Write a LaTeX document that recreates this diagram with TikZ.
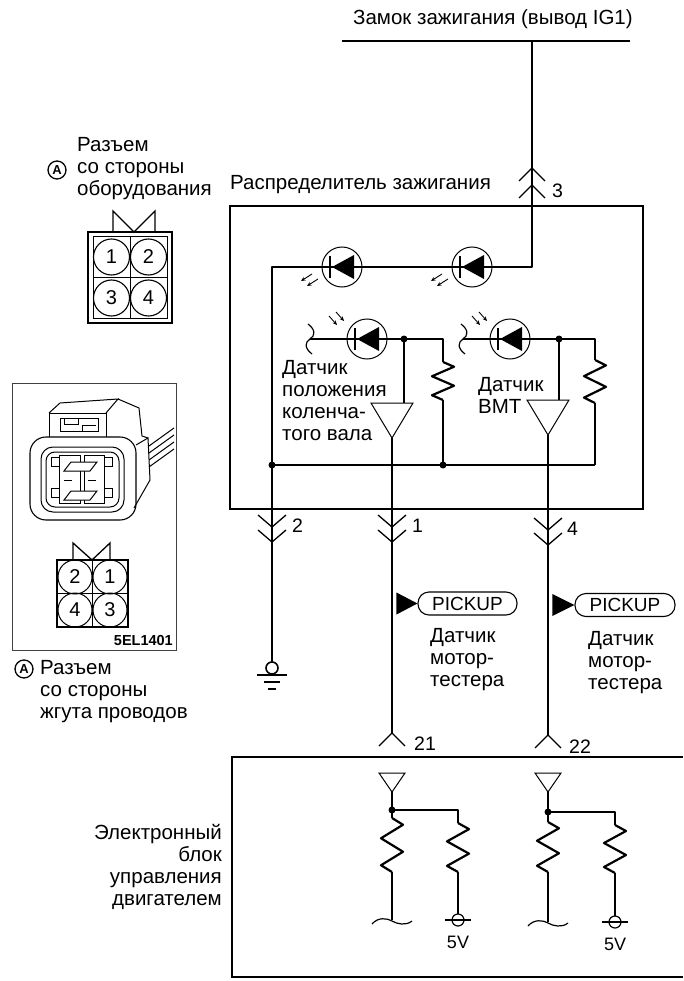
\documentclass[tikz,border=0pt]{standalone}
\usepackage{fontspec}
\setmainfont{Liberation Sans}
\usetikzlibrary{arrows.meta}
\tikzset{
  wire/.style={line width=2.2pt, line join=round},
  thinln/.style={line width=1pt},
  boxln/.style={line width=1.2pt},
  chev/.style={line width=1.3pt, line join=miter},
  txt/.style={font=\fontsize{20.5}{21.8}\selectfont, inner sep=0pt, align=left},
  volt/.style={font=\fontsize{18}{20}\selectfont, inner sep=0pt},
  jdot/.style={circle, fill=black, inner sep=0pt, minimum size=7pt},
  ray/.style={line width=0.9pt, -{Stealth[length=4.5pt,width=4pt]}},
  pickbox/.style={draw, line width=1.1pt, rounded corners=11pt, minimum width=99pt,
    minimum height=23pt, inner sep=0pt, font=\fontsize{19}{20}\selectfont},
  circA/.style={circle, draw, line width=1.3pt, inner sep=0pt, minimum size=18pt,
    font=\fontsize{13}{13}\selectfont\bfseries},
  pinnum/.style={font=\fontsize{19.5}{20}\selectfont, inner sep=0pt},
  % diode symbol in a circle, cathode bar on the left
  pics/diodeL/.style={code={
    \draw[thinln] (0,0) circle (20);
    \fill (-10,0) -- (12,-12) -- (12,12) -- cycle;
    \draw[line width=1.2pt] (-12,-11) -- (-12,11);
  }},
  % light leaving an LED
  pics/emit/.style={code={
    \draw[ray] (-30,7) -- (-41,14);
    \draw[ray] (-24,12) -- (-35,19);
  }},
  % light falling on a photodiode
  pics/absorb/.style={code={
    \draw[ray] (-38,-23) -- (-30,-14);
    \draw[ray] (-31,-27) -- (-23,-18);
  }},
  pics/ampbig/.style={code={
    \draw[thinln, fill=white] (-21,0) -- (21,0) -- (0,35) -- cycle;
  }},
  pics/ampsmall/.style={code={
    \draw[thinln, fill=white] (-13,0) -- (13,0) -- (0,19) -- cycle;
  }},
  pics/res/.style={code={
    \draw[wire] (0,0) -- (11,{#1/8}) -- (-11,{3*#1/8}) -- (11,{5*#1/8})
      -- (-11,{7*#1/8}) -- (0,#1);
  }},
  pics/tildeH/.style={code={
    \draw[line width=1.2pt] (-20,4) .. controls (-14,-3) and (-5,-2) .. (0,1)
      .. controls (5,4) and (14,6) .. (20,1);
  }},
  pics/tildeV/.style={code={
    \draw[line width=1.2pt] (-2,-15) .. controls (6,-9) and (5,-3) .. (0,0)
      .. controls (-5,3) and (-6,9) .. (2,15);
  }},
  pics/upchev/.style={code={
    \draw[chev] (-13,13) -- (0,0) -- (13,13);
  }},
  pics/downchev/.style={code={
    \draw[chev] (-14,-12) -- (0,0) -- (14,-12);
  }},
  pics/gnd/.style={code={
    \draw[line width=1.6pt] (0,0) circle (6);
    \draw[line width=1.2pt] (-15,7) -- (15,7);
    \draw[line width=1.2pt] (-8,14) -- (8,14);
    \draw[line width=1.2pt] (-4,21) -- (4,21);
  }},
  pics/terminal/.style={code={
    \draw[line width=1.2pt] (0,0) circle (6);
    \draw[line width=1.2pt] (-13,0) -- (13,0);
  }},
}
\begin{document}
\begin{tikzpicture}[x=1pt,y=-1pt]
\useasboundingbox (0,0) rectangle (683,981);

% ---------- ignition switch feed ----------
\coordinate (busL) at (342,41);
\coordinate (busR) at (630,41);
\coordinate (feed) at (532,41);
\coordinate (ledR) at (532,267);
\coordinate (ledL) at (272,267);
\coordinate (gTop) at (272,662);
\node[txt, anchor=base west] (tIG) at (353,25) {Замок зажигания (вывод IG1)};
\draw[wire] (busL) -- (busR);
\draw[wire] (feed) -- (ledR) -- (ledL) -- (gTop);

% ---------- distributor ----------
\node[txt, anchor=base west] (tDist) at (230,190) {Распределитель зажигания};
\draw[boxln] (230,206) rectangle (643,509);
\pic at (532,168) {upchev};
\pic at (532,185) {upchev};
\node[pinnum, anchor=base west] (n3) at (552,198) {3};

\pic at (342,267) {diodeL};
\pic at (342,267) {emit};
\pic at (472,267) {diodeL};
\pic at (472,267) {emit};

% crank angle sensor
\coordinate (p1a) at (310,339);
\coordinate (p1b) at (443,339);
\coordinate (p1j) at (404,339);
\coordinate (r1t) at (443,362);
\coordinate (r1b) at (443,400);
\coordinate (b1) at (443,465);
\coordinate (a1in) at (404,403);
\coordinate (a1out) at (392,438);
\coordinate (c21) at (392,733);
\draw[wire] (p1a) -- (p1b) -- (r1t);
\pic at (r1t) {res=38};
\draw[wire] (r1b) -- (b1);
\draw[wire] (p1j) -- (a1in);
\pic at (392,403) {ampbig};
\draw[wire] (a1out) -- (c21);
\pic at (367,339) {diodeL};
\pic at (367,339) {absorb};
\pic at (p1a) {tildeV};

% TDC sensor
\coordinate (p2a) at (463,339);
\coordinate (p2b) at (595,339);
\coordinate (p2j) at (559,339);
\coordinate (r2t) at (595,360);
\coordinate (r2b) at (595,403);
\coordinate (b2) at (595,465);
\coordinate (a2in) at (559,400);
\coordinate (a2out) at (548,435);
\coordinate (c22) at (548,735);
\draw[wire] (p2a) -- (p2b) -- (r2t);
\pic at (r2t) {res=43};
\draw[wire] (r2b) -- (b2);
\draw[wire] (p2j) -- (a2in);
\pic at (548,400) {ampbig};
\draw[wire] (a2out) -- (c22);
\pic at (510,339) {diodeL};
\pic at (510,339) {absorb};
\pic at (p2a) {tildeV};

% common return
\coordinate (b0) at (272,465);
\draw[wire] (b0) -- (b2);
\node[jdot] (d0) at (b0) {};
\node[jdot] (d1) at (b1) {};
\node[jdot] (dp1) at (p1j) {};
\node[jdot] (dp2) at (p2j) {};

\node[txt, anchor=north west] (tCrank) at (282,360.3)
  {Датчик\\положения\\коленча-\\того вала};
\node[txt, anchor=north west] (tTDC) at (478,377.3) {Датчик\\ВМТ};

% distributor connector pins
\pic at (272,527) {downchev};
\pic at (272,542) {downchev};
\node[pinnum, anchor=base west] (n2) at (292,532) {2};
\pic at (392,527) {downchev};
\pic at (392,542) {downchev};
\node[pinnum, anchor=base west] (n1) at (412,532) {1};
\pic at (548,530) {downchev};
\pic at (548,545) {downchev};
\node[pinnum, anchor=base west] (n4) at (567,535) {4};

% ground
\pic at (272,668) {gnd};

% ---------- engine tester pickups ----------
\node[pickbox] (pk1) at (467.5,603.5) {PICKUP};
\fill (pk1.west) -- ++(-21,-11) -- ++(0,22) -- cycle;
\node[txt, anchor=north west] (tPk1) at (430,628.3) {Датчик\\мотор-\\тестера};
\node[pickbox, minimum width=100pt] (pk2) at (625,605) {PICKUP};
\fill (pk2.west) -- ++(-22,-11) -- ++(0,22) -- cycle;
\node[txt, anchor=north west] (tPk2) at (588,631.3) {Датчик\\мотор-\\тестера};

% ---------- ECU ----------
\pic at (c21) {upchev};
\node[pinnum, anchor=base west] (n21) at (414,750) {21};
\pic at (c22) {upchev};
\node[pinnum, anchor=base west] (n22) at (569,753) {22};
\draw[boxln] (683,757) -- (232,757) -- (232,977) -- (683,977);
\node[txt, align=right, anchor=north east] (tECU) at (222,824.3)
  {Электронный\\блок\\управления\\двигателем};

% input 21
\coordinate (e1a) at (392,792);
\coordinate (e1j) at (392,810);
\coordinate (e1rt) at (392,818);
\coordinate (e1rb) at (392,872);
\coordinate (e1g) at (392,920);
\coordinate (e1c) at (458,810);
\coordinate (e1pt) at (458,823);
\coordinate (e1pb) at (458,872);
\coordinate (e1v) at (458,914);
\pic at (392,773) {ampsmall};
\draw[wire] (e1a) -- (e1rt);
\pic at (e1rt) {res=54};
\draw[wire] (e1rb) -- (e1g);
\pic at (e1g) {tildeH};
\draw[wire] (e1j) -- (e1c) -- (e1pt);
\pic at (e1pt) {res=49};
\draw[wire] (e1pb) -- (e1v);
\pic at (458,920) {terminal};
\node[jdot] (de1) at (e1j) {};
\node[volt, anchor=base] (v1) at (458,948) {5V};

% input 22
\coordinate (e2a) at (548,792);
\coordinate (e2j) at (548,812);
\coordinate (e2rt) at (548,822);
\coordinate (e2rb) at (548,872);
\coordinate (e2g) at (548,922);
\coordinate (e2c) at (615,812);
\coordinate (e2pt) at (615,825);
\coordinate (e2pb) at (615,873);
\coordinate (e2v) at (615,916);
\pic at (548,773) {ampsmall};
\draw[wire] (e2a) -- (e2rt);
\pic at (e2rt) {res=50};
\draw[wire] (e2rb) -- (e2g);
\pic at (e2g) {tildeH};
\draw[wire] (e2j) -- (e2c) -- (e2pt);
\pic at (e2pt) {res=48};
\draw[wire] (e2pb) -- (e2v);
\pic at (615,922) {terminal};
\node[jdot] (de2) at (e2j) {};
\node[volt, anchor=base] (v2) at (615,950) {5V};

% ---------- connector A, equipment side ----------
\node[circA] (cA1) at (57,170) {A};
\node[txt, anchor=north west] (tA1) at (77,137.3) {Разъем\\со стороны\\оборудования};
\draw[line width=1.3pt] (113,232) -- (113,211) -- (134,232) -- (155,211) -- (155,232);
\draw[line width=1.6pt] (88,232) rectangle (172,323);
\draw[thinln] (93,237) rectangle (167,318);
\draw[thinln] (130,237) -- (130,318);
\draw[thinln] (93,277.5) -- (167,277.5);
\foreach \cx/\cy/\t in {111.5/257/1, 148.5/257/2, 111.5/298/3, 148.5/298/4}
  \node[circle, draw, line width=1.1pt, minimum size=36pt, inner sep=0pt,
        font=\fontsize{20}{20}\selectfont] at (\cx,\cy) {\t};

% ---------- connector A, harness side ----------
\draw[line width=0.8pt, black!75] (12,383) rectangle (176,650);
% housing sketch
\draw[thinln] (49,437) -- (49,413) -- (106,413) -- (106,437);
\draw[thinln] (49,413) -- (60,403) -- (118,399) -- (106,413);
\draw[thinln] (118,399) -- (139,408) -- (142,436);
\draw[thinln] (60,418) rectangle (98,431);
\draw[thinln] (64,418) -- (64,424) -- (78,424) -- (78,418);
\draw[thinln] (82,425) -- (82,431);
\draw[thinln] (82,425) -- (96,425);
\draw[line width=1.1pt, rounded corners=16pt] (30,437) rectangle (136,520);
\draw[thinln, rounded corners=12pt] (41,447) rectangle (124,512);
\draw[thinln, rounded corners=9pt] (46,452) rectangle (119,507);
\draw[thinln] (136,445) -- (148,438) -- (150,480) -- (134,508);
\draw[thinln] (142,436) -- (148,438);
\foreach \dy in {0,7,14,21}
  \draw[thinln] (149,{446+\dy}) -- (174,{428+\dy});
% terminals
\foreach \tx/\ty in {51/457, 104/457, 51/488, 104/488}
  \draw[thinln] (\tx,\ty) rectangle ++(8,9);
\draw[thinln] (59,455) rectangle (80,503);
\draw[thinln] (84,455) rectangle (104,503);
\draw[thinln, fill=white] (64,471) -- (71,462) -- (97,462) -- (90,471) -- cycle;
\draw[thinln, fill=white] (64,500) -- (71,491) -- (97,491) -- (90,500) -- cycle;
\draw[thinln] (64,480) -- (72,480);
\draw[thinln] (88,480) -- (96,480);
% pin layout
\draw[line width=1.3pt] (73,560) -- (73,543) -- (92,560) -- (110,543) -- (110,560);
\draw[line width=1.6pt] (57,560) rectangle (128,627);
\draw[thinln] (92.5,560) -- (92.5,627);
\draw[thinln] (57,593.5) -- (128,593.5);
\foreach \cx/\cy/\t in {75/577/2, 110/577/1, 75/610/4, 110/610/3}
  \node[circle, draw, line width=1pt, minimum size=34pt, inner sep=0pt,
        font=\fontsize{20}{20}\selectfont] at (\cx,\cy) {\t};
\node[font=\fontsize{14.5}{16}\selectfont\bfseries, inner sep=0pt, anchor=base east]
  (tCode) at (173,645) {5EL1401};
\node[circA] (cA2) at (24,669) {A};
\node[txt, anchor=north west] (tA2) at (40,660.3) {Разъем\\со стороны\\жгута проводов};

\end{tikzpicture}
\end{document}
